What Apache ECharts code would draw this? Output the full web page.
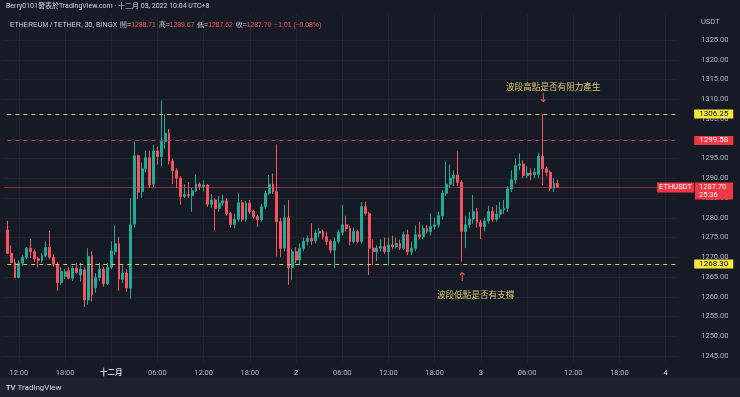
<!DOCTYPE html>
<html><head><meta charset="utf-8">
<script src="https://cdn.jsdelivr.net/npm/echarts@6/dist/echarts.min.js"></script>
<style>html,body{margin:0;padding:0;background:#161a25;}#c{width:740px;height:397px;}</style>
</head><body><div id="c"></div>
<script>
// ---- data (30-min candles, ETH/USDT, from 2022-11-30 10:30 UTC+8) ----
const slotCount = 175;            // category slots shown on the time axis
const opens = [1276.9,1271.0,1268.7,1264.9,1268.5,1270.0,1272.3,1271.4,1269.6,1269.2,1270.4,1272.5,1270.0,1268.2,1263.6,1265.2,1266.6,1264.7,1267.2,1265.5,
1266.8,1259.2,1270.4,1262.3,1264.9,1267.0,1263.3,1267.5,1271.4,1273.4,1264.4,1266.0,1262.2,1278.4,1295.7,1286.6,1292.4,1295.2,1288.5,1296.9,
1295.5,1299.3,1301.4,1294.4,1291.9,1290.0,1285.4,1285.9,1285.6,1286.8,1288.5,1287.9,1288.3,1283.4,1284.5,1282.4,1283.7,1284.3,1281.1,1278.3,
1279.6,1283.8,1279.6,1283.7,1281.6,1280.3,1279.5,1282.8,1286.2,1288.5,1286.6,1279.0,1272.3,1280.0,1267.4,1271.4,1269.3,1272.3,1274.0,1274.8,
1274.1,1276.1,1276.5,1275.2,1274.0,1271.8,1274.0,1276.3,1278.2,1277.3,1274.0,1276.5,1274.0,1282.8,1281.1,1272.3,1271.4,1272.3,1272.7,1271.4,
1273.1,1272.7,1273.5,1272.3,1275.7,1271.4,1272.3,1275.7,1275.2,1277.3,1276.5,1277.8,1278.2,1280.5,1286.2,1288.5,1290.0,1290.8,1289.0,1276.5,
1278.2,1279.7,1281.6,1278.8,1277.8,1279.2,1281.6,1279.6,1280.9,1282.0,1282.4,1287.3,1289.6,1293.2,1293.6,1290.7,1291.3,1290.9,1291.0,1295.5,
1292.4,1291.5,1287.5,1288.71];
const closes = [1271.0,1268.7,1264.9,1268.5,1270.0,1272.3,1271.4,1269.6,1269.2,1270.4,1272.5,1270.0,1268.2,1263.6,1266.4,1266.3,1264.7,1267.2,1266.2,1267.0,
1259.2,1270.2,1260.5,1264.9,1267.0,1263.3,1267.5,1271.6,1273.4,1264.4,1266.0,1262.2,1278.2,1295.7,1286.5,1292.4,1295.2,1288.3,1296.9,1295.5,
1299.3,1301.4,1294.4,1291.9,1290.0,1285.4,1285.9,1285.6,1286.8,1288.5,1287.9,1288.3,1283.4,1284.5,1282.4,1283.7,1284.3,1281.1,1278.3,1279.6,
1283.8,1279.6,1283.7,1281.6,1280.3,1279.5,1282.8,1286.2,1288.5,1286.6,1279.0,1272.3,1280.0,1267.4,1271.4,1269.3,1272.3,1274.0,1274.8,1274.1,
1276.1,1276.5,1275.2,1274.0,1271.8,1274.0,1276.3,1278.2,1277.3,1274.0,1276.5,1274.0,1282.8,1281.1,1272.3,1271.4,1272.3,1272.7,1271.4,1273.1,
1272.7,1273.5,1272.3,1275.7,1271.4,1272.3,1275.7,1275.2,1277.3,1276.5,1277.8,1278.2,1280.5,1286.2,1288.5,1290.0,1290.8,1289.0,1276.5,1278.2,
1279.7,1281.6,1278.8,1277.8,1279.2,1281.6,1279.6,1280.9,1282.0,1282.4,1287.3,1289.6,1293.2,1293.6,1290.7,1291.3,1290.9,1291.5,1295.5,1292.4,
1291.5,1287.5,1288.7,1287.70];
const lows = [1270.8,1268.5,1264.7,1264.6,1267.8,1269.5,1269.8,1268.8,1267.4,1268.6,1270.0,1269.5,1267.6,1261.5,1263.0,1264.5,1264.4,1264.0,1265.8,1263.8,
1257.4,1258.0,1258.8,1261.0,1264.0,1262.5,1263.0,1267.0,1270.5,1261.5,1263.5,1261.3,1259.5,1277.5,1284.7,1285.0,1291.5,1287.6,1287.8,1293.5,
1293.0,1297.5,1293.5,1288.5,1287.5,1283.3,1285.0,1285.0,1281.5,1286.5,1287.0,1286.6,1282.8,1282.5,1276.8,1281.5,1283.0,1280.5,1277.5,1277.3,
1279.0,1279.0,1279.0,1281.0,1279.8,1277.7,1279.0,1282.3,1285.8,1286.0,1270.2,1270.0,1271.5,1263.0,1264.2,1268.5,1268.0,1271.5,1273.0,1273.1,
1273.5,1275.0,1274.5,1273.0,1271.0,1267.3,1273.5,1275.5,1276.5,1273.0,1273.5,1273.5,1273.5,1280.5,1265.5,1268.0,1269.0,1271.5,1270.8,1268.1,
1272.0,1272.2,1271.8,1271.8,1270.5,1270.5,1271.5,1274.5,1274.5,1276.0,1275.5,1277.0,1277.5,1279.5,1285.5,1287.5,1288.0,1288.0,1268.9,1272.3,
1277.3,1278.5,1277.5,1274.6,1276.5,1278.5,1279.0,1279.0,1280.0,1281.0,1281.5,1286.5,1288.5,1292.0,1290.0,1290.0,1289.5,1290.0,1290.0,1288.3,
1290.5,1286.8,1286.5,1287.62];
const highs = [1279.2,1273.0,1269.7,1269.2,1270.5,1272.6,1274.6,1272.0,1270.2,1271.0,1274.0,1276.7,1270.8,1268.8,1267.5,1267.0,1267.5,1267.8,1268.5,1268.6,
1267.5,1272.3,1271.5,1266.0,1268.5,1267.5,1268.5,1274.0,1278.0,1275.2,1268.0,1267.0,1285.0,1299.3,1296.0,1294.0,1297.0,1297.0,1298.5,1298.0,
1309.7,1306.2,1302.5,1295.0,1292.5,1290.5,1288.5,1289.0,1287.5,1291.0,1289.0,1289.5,1288.5,1286.0,1285.0,1285.5,1285.8,1285.0,1281.5,1281.0,
1286.2,1284.5,1284.3,1284.5,1282.0,1280.8,1283.5,1286.8,1290.8,1291.2,1298.6,1280.0,1283.2,1284.5,1272.0,1272.5,1273.5,1275.0,1275.5,1278.6,
1277.0,1277.5,1277.0,1276.5,1274.5,1275.0,1277.0,1283.2,1280.5,1278.0,1277.5,1277.0,1284.0,1284.1,1281.5,1274.5,1273.0,1274.5,1275.0,1275.0,
1275.5,1275.0,1274.5,1276.5,1277.0,1274.0,1278.0,1279.0,1278.0,1278.2,1281.1,1280.0,1281.5,1287.0,1294.2,1293.5,1292.0,1296.8,1289.5,1280.5,
1281.5,1285.8,1282.5,1279.5,1280.0,1283.0,1282.8,1283.2,1284.0,1284.5,1288.0,1292.0,1295.0,1296.3,1294.5,1293.0,1292.5,1292.5,1296.5,1306.25,
1293.0,1292.0,1290.0,1289.67];
const resistanceLevel = 1306.25;
const midLevel = 1299.58;
const supportLevel = 1268.30;
const lastPrice = 1287.70;
const yTickValues = [1245,1250,1255,1260,1265,1270,1275,1280,1285,1290,1295,1300,1305,1310,1315,1320,1325];

// ---- categories (30-min slots) ----
const categories = [];
const t0 = Date.UTC(2022, 10, 30, 10, 30);
const p2 = n => (n < 10 ? '0' : '') + n;
for (let k = 0; k < slotCount; k++) {
  const d = new Date(t0 + k * 1800000);
  categories.push(p2(d.getUTCMonth() + 1) + '-' + p2(d.getUTCDate()) + ' ' + p2(d.getUTCHours()) + ':' + p2(d.getUTCMinutes()));
}
const candleData = opens.map((o, i) => [o, closes[i], lows[i], highs[i]]);

const UP = '#22ab94', DOWN = '#f7525f';
const GRID = '#1f2330';
const LBL = '#b2b5be';
const FONT = "Roboto, 'Noto Sans CJK TC', sans-serif";

function isTick(idx, v) {
  const hm = v.split(' ')[1].split(':').map(Number);
  return hm[1] === 0 && hm[0] % 6 === 0;
}
function xLabel(v) {
  const parts = v.split(' ');
  if (parts[1] === '00:00') {
    const day = +parts[0].split('-')[1];
    return day === 1 ? '{b|十二月}' : '{d|' + day + '}';
  }
  return parts[1];
}

// value axis mapping: 1325 at y=40, 3.95 px per unit
const PX = 3.95;
const y0Top = 14, y0Bot = 363;
const ax0Max = 1325 + (40 - y0Top) / PX;
const ax0Min = 1325 - (y0Bot - 40) / PX;
const g1Top = 40 - 10 * PX;            // 1335
const g1Bot = 40 + 85 * PX;            // 1240

const splitColors = [];
for (let v = 1240; v <= 1335; v += 5) splitColors.push(yTickValues.indexOf(v) >= 0 ? GRID : 'rgba(0,0,0,0)');

const chart = echarts.init(document.getElementById('c'), null, {renderer: 'canvas'});

const lvlLabel = (txt, bg, fg) => ({
  show: true, position: 'end', distance: 17, formatter: txt,
  backgroundColor: bg, color: fg, fontSize: 8, fontFamily: FONT,
  padding: [1, 5, 0, 5], lineHeight: 8
});

chart.setOption({
  backgroundColor: '#161a25',
  animation: false,
  textStyle: {fontFamily: FONT},
  grid: [
    {left: 7.3, right: 62.8, top: y0Top, bottom: 397 - y0Bot, containLabel: false},
    {left: 4, right: 62.8, top: g1Top, bottom: 397 - g1Bot, containLabel: false}
  ],
  xAxis: [
    {type: 'category', gridIndex: 0, data: categories, boundaryGap: false,
     axisLine: {show: false}, axisTick: {show: false},
     axisLabel: {interval: isTick, formatter: xLabel, color: LBL, fontSize: 7.5, margin: 6,
       rich: {b: {color: '#d1d4dc', fontSize: 7.5, fontWeight: 'bold'}, d: {color: '#d1d4dc', fontSize: 7.5}}},
     splitLine: {show: true, interval: isTick, lineStyle: {color: GRID, width: 1}}},
    {type: 'value', gridIndex: 1, show: false, min: 0, max: 1}
  ],
  yAxis: [
    {type: 'value', gridIndex: 0, min: ax0Min, max: ax0Max, show: false, splitLine: {show: false}},
    {type: 'value', gridIndex: 1, position: 'right', min: 1240, max: 1335, interval: 5,
     axisLine: {show: false}, axisTick: {show: false},
     axisLabel: {margin: 24, color: LBL, fontSize: 7.5,
       formatter: v => (yTickValues.indexOf(v) >= 0 ? v.toFixed(2) : '')},
     splitLine: {show: true, lineStyle: {color: splitColors, width: 1}}}
  ],
  series: [{
    type: 'candlestick', xAxisIndex: 0, yAxisIndex: 0, data: candleData,
    barWidth: 2.4, clip: false, z: 3,
    itemStyle: {color: UP, color0: DOWN, borderColor: UP, borderColor0: DOWN, borderWidth: 1},
    markLine: {
      symbol: ['none', 'none'], silent: true, animation: false,
      lineStyle: {color: '#d6cc4f', type: [4, 4], width: 1, opacity: 1},
      data: [
        {yAxis: resistanceLevel, label: lvlLabel('1306.25', '#f5e63d', '#131722')},
        {yAxis: midLevel, lineStyle: {color: '#bd4151', type: [4, 4], width: 1}, label: lvlLabel('1299.58', '#f23645', '#ffffff')},
        {yAxis: supportLevel, label: lvlLabel('1268.30', '#f5e63d', '#131722')}
      ]
    }
  }]
});

const py = Math.round(chart.convertToPixel({gridIndex: 0}, [0, lastPrice])[1]) + 0.5;
const ann = '#dccb6c';
chart.setOption({
  graphic: [
    {type: 'rect', left: 0, top: 378, shape: {width: 740, height: 19}, style: {fill: '#1e222d'}, z: 0},
    // current price line
    {type: 'line', shape: {x1: 4, y1: py, x2: 677, y2: py}, style: {stroke: '#8c2f3d', lineWidth: 1}, z: 1},
    {type: 'text', left: 6, top: 3, style: {text: 'Berry0101發表於TradingView.com · 十二月 03, 2022 10:04 UTC+8', fill: '#d1d4dc', fontSize: 7, fontFamily: FONT}},
    {type: 'text', left: 10, top: 19, style: {
      text: '{n|ETHEREUM / TETHER, 30, BINGX} {k|開=}{v|1288.71} {k|高=}{v|1289.67} {k|低=}{v|1287.62} {k|收=}{v|1287.70} {v|−1.01 (−0.08%)}',
      fontFamily: FONT, rich: {n: {fill: '#d1d4dc', fontSize: 6.8}, k: {fill: '#d1d4dc', fontSize: 6.8}, v: {fill: '#f7525f', fontSize: 6.8}}}},
    {type: 'text', left: 701, top: 18, style: {text: 'USDT', fill: LBL, fontSize: 7.5, fontFamily: FONT}},
    // current price tags
    {type: 'rect', shape: {x: 657, y: py - 5, width: 37, height: 10}, style: {fill: '#f23645'}, z: 10},
    {type: 'text', x: 675.5, y: py, style: {text: 'ETHUSDT', fill: '#fff', fontSize: 7.5, fontFamily: FONT, align: 'center', verticalAlign: 'middle'}, z: 11},
    {type: 'rect', shape: {x: 695, y: py - 5, width: 38, height: 17}, style: {fill: '#f23645'}, z: 10},
    {type: 'text', x: 699, y: py - 4.5, style: {text: '1287.70\n25:36', fill: '#fff', fontSize: 7.5, lineHeight: 8, fontFamily: FONT, verticalAlign: 'top'}, z: 11},
    // annotations
    {type: 'text', left: 506, top: 82, style: {text: '波段高點是否有阻力產生', fill: ann, fontSize: 8.6, fontFamily: "'Noto Sans CJK TC', sans-serif"}},
    {type: 'text', x: 543, y: 99, style: {text: '↓', fill: '#f7525f', fontSize: 12, fontFamily: 'DejaVu Sans', align: 'center', verticalAlign: 'middle'}},
    {type: 'text', left: 437, top: 290.5, style: {text: '波段低點是否有支撐', fill: ann, fontSize: 8.6, fontFamily: "'Noto Sans CJK TC', sans-serif"}},
    {type: 'text', x: 462, y: 278, style: {text: '↑', fill: '#f7525f', fontSize: 12, fontFamily: 'DejaVu Sans', align: 'center', verticalAlign: 'middle'}},
    // logo
    {type: 'text', left: 6, top: 384, style: {text: '{t|TV} TradingView', fill: '#d1d4dc', fontSize: 8, fontFamily: FONT, rich: {t: {fontWeight: 'bold', fontSize: 7.5, fill: '#d1d4dc'}}}}
  ]
});
</script></body></html>
